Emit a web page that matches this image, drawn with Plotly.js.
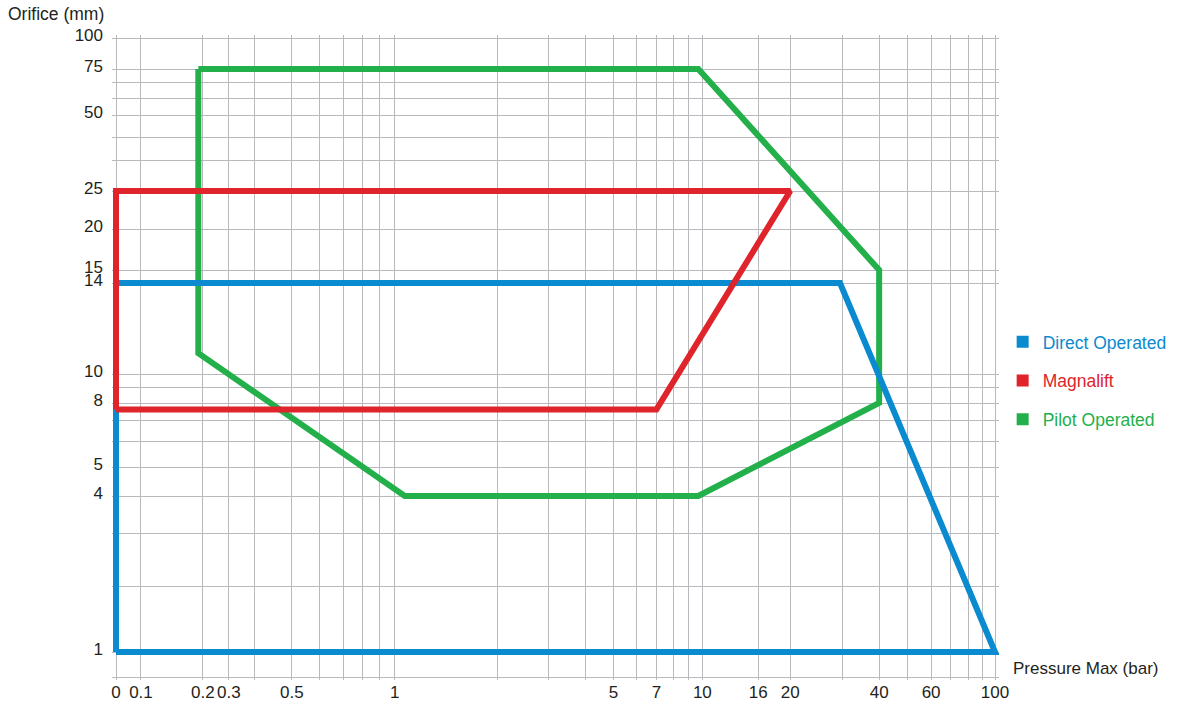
<!DOCTYPE html>
<html>
<head>
<meta charset="utf-8">
<script src="https://cdn.plot.ly/plotly-3.0.1.min.js"></script>
<style>html,body{margin:0;padding:0;background:#fff;}</style>
</head>
<body>
<div id="chart" style="width:1183px;height:703px;"></div>
<script>
// ---- Data (pressure in bar, orifice in mm) ----
const seriesNames = ["Direct Operated", "Magnalift", "Pilot Operated"];
const directPressure = [0, 0, 29.5, 100, 0];
const directOrifice  = [1, 14, 14, 1, 1];
const magnaliftPressure = [0, 0, 20, 7, 0];
const magnaliftOrifice  = [7.6, 25, 25, 7.6, 7.6];
const pilotPressure = [0.19, 9.7, 40, 40, 9.7, 1.07, 0.19, 0.19];
const pilotOrifice  = [75, 75, 15, 8, 4, 4, 10.8, 75];

// ---- Axis grid values and tick labels ----
const pressureGrid = [0,0.1,0.2,0.3,0.4,0.5,0.6,0.7,0.8,0.9,1,2,3,4,5,6,7,8,9,10,16,20,30,40,50,60,70,80,90,100];
const pressureLabels = [0,0.1,0.2,0.3,0.5,1,5,7,10,16,20,40,60,100];
const orificeGrid = [0,1,2,3,4,5,6,7,8,9,10,14,15,20,25,30,40,50,60,70,75,100];
const orificeLabels = [1,4,5,8,10,14,15,20,25,50,75,100];

// ---- Layout scale: where each grid value sits on the (non-uniform) printed scale ----
const pressureScalePos = [116,141,203,229,255,292,320,344,363,380,395,498,549,586,614,637,657,674,689,703,759,791,843,880,908,932,951,969,983,996];
const orificeScalePos  = [677,652,586,533,496,467,441,420,403,387,374,283,270,229,191,160,137,115,98,82,69,38];

function toScale(v, vals, pos) {
  for (let i = 0; i < vals.length - 1; i++) {
    const a = vals[i], b = vals[i + 1];
    if (v >= a && v <= b) {
      let f;
      if (a <= 0) f = (v - a) / (b - a);
      else f = Math.log(v / a) / Math.log(b / a);
      return pos[i] + f * (pos[i + 1] - pos[i]);
    }
  }
  return v <= vals[0] ? pos[0] : pos[pos.length - 1];
}
const sx = v => toScale(v, pressureGrid, pressureScalePos);
const sy = v => toScale(v, orificeGrid, orificeScalePos);

const colors = ["#0a8acf", "#e0242b", "#23b04b"];
const fontFamily = "Liberation Sans, Arial, sans-serif";
const textColor = "#231f20";

function polyTrace(px, py, color) {
  return {
    x: px.map(sx), y: py.map(sy), type: "scatter", mode: "lines",
    line: {color: color, width: 6}, showlegend: false, hoverinfo: "skip"
  };
}
function legendTrace(name, color, i) {
  return {
    x: [null], y: [null], type: "scatter", mode: "markers",
    name: '<span style="color:' + color + '">' + name + '</span>',
    legendgroup: "g" + i,
    marker: {symbol: "square", size: 12, color: color}
  };
}

const traces = [
  polyTrace(pilotPressure, pilotOrifice, colors[2]),
  polyTrace(directPressure, directOrifice, colors[0]),
  polyTrace(magnaliftPressure, magnaliftOrifice, colors[1]),
  legendTrace(seriesNames[0], colors[0], 0),
  legendTrace(seriesNames[1], colors[1], 1),
  legendTrace(seriesNames[2], colors[2], 2)
];

const gridColor = "#b9b9bd";
const layout = {
  width: 1183, height: 703,
  margin: {l: 112, r: 183, t: 35, b: 23},
  paper_bgcolor: "#ffffff", plot_bgcolor: "#ffffff",
  font: {family: fontFamily, size: 17, color: textColor},
  showlegend: true,
  legend: {
    x: 1.003, xanchor: "left", y: 0.4636, yanchor: "middle",
    traceorder: "grouped", tracegroupgap: 13, itemwidth: 30,
    font: {family: fontFamily, size: 17.5},
    bgcolor: "rgba(0,0,0,0)", itemclick: false
  },
  xaxis: {
    type: "linear", range: [112, 1000], fixedrange: true,
    tickmode: "array",
    tickvals: pressureGrid.map(sx),
    ticktext: pressureGrid.map(v => pressureLabels.includes(v) ? String(v) : ""),
    showgrid: true, gridcolor: gridColor, gridwidth: 1,
    zeroline: false, showline: false, ticks: "",
    tickangle: 0, ticklabelstandoff: 0,
    tickfont: {family: fontFamily, size: 17, color: textColor}
  },
  yaxis: {
    type: "linear", range: [680, 35], fixedrange: true,
    tickmode: "array",
    tickvals: orificeGrid.map(sy),
    ticktext: orificeGrid.map(v => orificeLabels.includes(v) ? String(v) : ""),
    showgrid: true, gridcolor: gridColor, gridwidth: 1,
    zeroline: false, showline: false, ticks: "",
    ticklabelstandoff: 8, ticklabelshift: 3,
    tickfont: {family: fontFamily, size: 17, color: textColor}
  },
  annotations: [
    {text: "Orifice (mm)", xref: "paper", yref: "paper", x: -0.12, y: 1.0326,
     xanchor: "left", yanchor: "middle", showarrow: false,
     font: {family: fontFamily, size: 17.5, color: textColor}},
    {text: "Pressure Max (bar)", xref: "paper", yref: "paper", x: 1.0135, y: 0.0186,
     xanchor: "left", yanchor: "middle", showarrow: false,
     font: {family: fontFamily, size: 17, color: textColor}}
  ]
};

Plotly.newPlot("chart", traces, layout, {displayModeBar: false, staticPlot: true});
</script>
</body>
</html>
